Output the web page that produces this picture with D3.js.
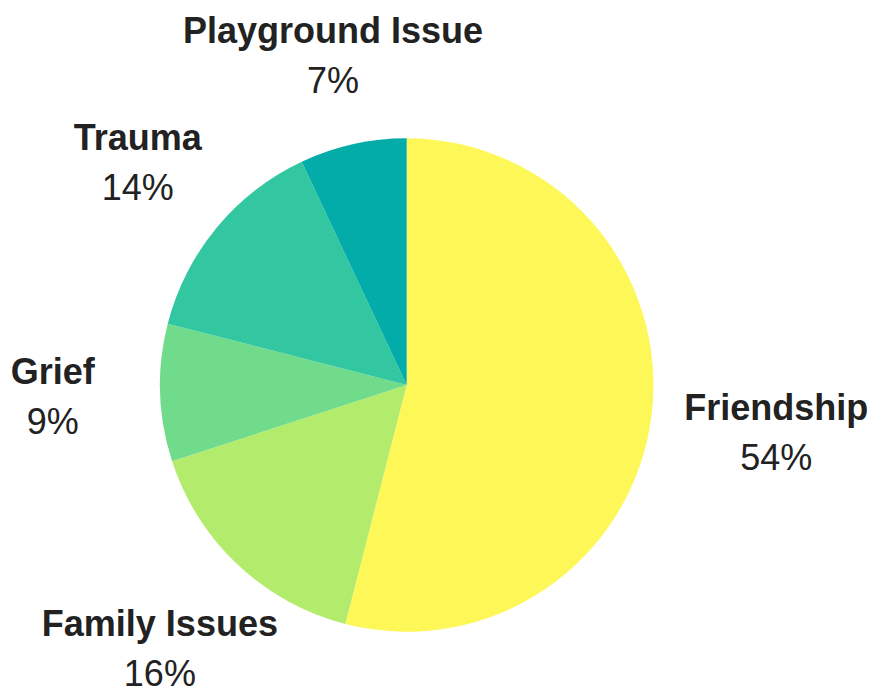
<!DOCTYPE html>
<html>
<head>
<meta charset="utf-8">
<script src="https://cdn.jsdelivr.net/npm/d3@7"></script>
<style>
    html, body { margin: 0; padding: 0; background: #fff; }
    svg { display: block; }
    text { font-family: "Liberation Sans", Arial, sans-serif; fill: #222; }
</style>
</head>
<body>
<svg></svg>
<script>
(function () {
    'use strict';

    const categories = ['Friendship', 'Family Issues', 'Grief', 'Trauma', 'Playground Issue'];
    const values = [54, 16, 9, 14, 7];
    const colors = ['#fef758', '#b3ec6c', '#6fdb8b', '#32c7a0', '#03aca8'];

    const width = 881;
    const height = 689;
    const cx = 406.7, cy = 385, radius = 246.7;

    const data = categories.map((c, i) => ({ name: c, value: values[i], color: colors[i] }));
    const total = d3.sum(values);

    const pie = d3.pie().sort(null).value(d => d.value);
    const arc = d3.arc().innerRadius(0).outerRadius(radius);

    const svg = d3.select('svg')
        .attr('width', width)
        .attr('height', height)
        .attr('viewBox', [0, 0, width, height]);

    const g = svg.append('g').attr('transform', `translate(${cx},${cy})`);

    const arcs = pie(data);

    g.selectAll('path')
        .data(arcs)
        .join('path')
        .attr('d', arc)
        .attr('fill', d => d.data.color);

    // labels: bold name + percent, pushed out along the mid-angle
    const labels = g.selectAll('g.label')
        .data(arcs)
        .join('g')
        .classed('label', true);

    labels.append('text')
        .attr('text-anchor', 'middle')
        .attr('y', -12)
        .style('font-size', '36px')
        .style('font-weight', 'bold')
        .text(d => d.data.name);

    labels.append('text')
        .attr('text-anchor', 'middle')
        .attr('y', 38)
        .style('font-size', '36px')
        .text(d => Math.round(d.data.value / total * 100) + '%');

    const pad = 4;
    labels.each(function (d) {
        const a = (d.startAngle + d.endAngle) / 2;
        const vx = Math.sin(a), vy = -Math.cos(a);
        const halfW = d3.max(d3.select(this).selectAll('text').nodes(), n => n.getComputedTextLength()) / 2;
        const r = radius + 91 + 0.4 * halfW * Math.abs(vx) - 13 * Math.abs(vy);
        let x = vx * r, y = vy * r;
        // keep inside the frame
        x = Math.min(x, width - cx - pad - halfW);
        x = Math.max(x, -cx + pad + halfW);
        d3.select(this).attr('transform', `translate(${x},${y})`);
    });
})();
</script>
</body>
</html>
